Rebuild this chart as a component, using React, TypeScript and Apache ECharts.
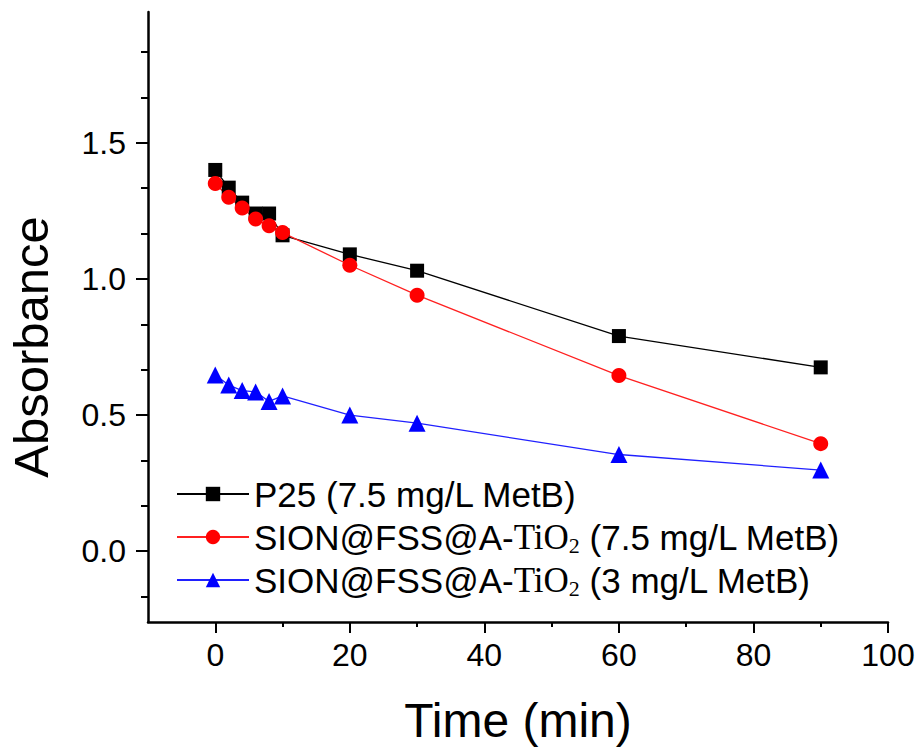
import React, { useEffect, useRef } from "react";
import * as echarts from "echarts";

const times = [0, 2, 4, 6, 8, 10, 20, 30, 60, 90];
const p25 = [1.4, 1.335, 1.28, 1.24, 1.24, 1.16, 1.09, 1.03, 0.79, 0.675];
const sion75 = [1.35, 1.3, 1.26, 1.22, 1.195, 1.17, 1.05, 0.94, 0.645, 0.395];
const sion3 = [0.647, 0.61, 0.59, 0.585, 0.55, 0.57, 0.5, 0.47, 0.355, 0.298];

const seriesNames = [
  "P25 (7.5 mg/L MetB)",
  "SION@FSS@A-TiO₂ (7.5 mg/L MetB)",
  "SION@FSS@A-TiO₂ (3 mg/L MetB)",
];

const xMajor = [0, 20, 40, 60, 80, 100];
const xMinor = [10, 30, 50, 70, 90];
const yMajor = [0, 0.5, 1.0, 1.5];
const yMinor = [-0.1667, 0.1667, 0.3333, 0.6667, 0.8333, 1.1667, 1.3333, 1.6667, 1.8333];

const X_MIN = -10;
const X_MAX = 100;
const Y_MIN = -0.26;
const Y_MAX = 1.98;

const FONT = "'Liberation Sans', Arial, sans-serif";
const SERIF = "'Liberation Serif', 'Times New Roman', serif";

export default function App() {
  const ref = useRef<HTMLDivElement>(null);
  useEffect(() => {
    if (!ref.current) return;
    const chart = echarts.init(ref.current, null, { renderer: "svg" });
    const pair = (ys: number[]) => times.map((t, i) => [t, ys[i]]);
    const option: any = {
      animation: false,
      backgroundColor: "#fff",
      textStyle: { fontFamily: FONT },
      grid: { left: 148, right: 35, top: 12, bottom: 126, containLabel: false, outerBoundsMode: "none" },
      legend: {
        orient: "vertical",
        left: 176,
        top: 475,
        padding: 0,
        itemGap: 5,
        itemWidth: 72,
        itemHeight: 18,
        data: seriesNames,
        formatter: (name: string) => name.replace("TiO₂", "{ti|TiO}{sub|2}"),
        textStyle: {
          fontFamily: FONT,
          fontSize: 35,
          color: "#000",
          lineHeight: 38,
          rich: {
            ti: { fontFamily: SERIF, fontSize: 35, color: "#000", lineHeight: 38 },
            sub: { fontFamily: SERIF, fontSize: 22, color: "#000", lineHeight: 22, verticalAlign: "bottom" },
          },
        },
      },
      xAxis: [
        {
          type: "value",
          min: X_MIN,
          max: X_MAX,
          position: "bottom",
          axisLine: { show: true, onZero: false, lineStyle: { color: "#000", width: 2.5 } },
          axisTick: { show: true, length: 11, lineStyle: { color: "#000", width: 2 }, customValues: xMajor },
          axisLabel: { customValues: xMajor, fontSize: 32, color: "#000", margin: 17, fontFamily: FONT },
          splitLine: { show: false },
          name: "Time (min)",
          nameLocation: "middle",
          nameGap: 74,
          nameTextStyle: { fontSize: 48, color: "#000", fontFamily: FONT },
        },
        {
          type: "value",
          min: X_MIN,
          max: X_MAX,
          position: "bottom",
          axisLine: { show: false, onZero: false },
          axisTick: { show: true, length: 5, lineStyle: { color: "#000", width: 2 }, customValues: xMinor },
          axisLabel: { show: false },
          splitLine: { show: false },
        },
      ],
      yAxis: [
        {
          type: "value",
          min: Y_MIN,
          max: Y_MAX,
          position: "left",
          axisLine: { show: true, onZero: false, lineStyle: { color: "#000", width: 2.5 } },
          axisTick: { show: true, length: 12, lineStyle: { color: "#000", width: 2 }, customValues: yMajor },
          axisLabel: {
            customValues: yMajor,
            fontSize: 32,
            color: "#000",
            margin: 22,
            fontFamily: FONT,
            formatter: (v: number) => v.toFixed(1),
          },
          splitLine: { show: false },
          name: "Absorbance",
          nameLocation: "middle",
          nameGap: 93,
          nameTextStyle: { fontSize: 49, color: "#000", fontFamily: FONT, padding: [0, 60, 0, 0] },
        },
        {
          type: "value",
          min: Y_MIN,
          max: Y_MAX,
          position: "left",
          axisLine: { show: false, onZero: false },
          axisTick: { show: true, length: 7, lineStyle: { color: "#000", width: 2 }, customValues: yMinor },
          axisLabel: { show: false },
          splitLine: { show: false },
        },
      ],
      series: [
        {
          name: seriesNames[0],
          type: "line",
          data: pair(p25),
          symbol: "rect",
          symbolSize: 14,
          itemStyle: { color: "#000" },
          lineStyle: { color: "#000", width: 1.3 },
        },
        {
          name: seriesNames[1],
          type: "line",
          data: pair(sion75),
          symbol: "circle",
          symbolSize: 15,
          itemStyle: { color: "#ff0000" },
          lineStyle: { color: "#ff2020", width: 1.3 },
        },
        {
          name: seriesNames[2],
          type: "line",
          data: pair(sion3),
          symbol: "triangle",
          symbolSize: 17,
          itemStyle: { color: "#0000ff" },
          lineStyle: { color: "#2020ff", width: 1.3 },
        },
      ],
    };
    chart.setOption(option);
    return () => chart.dispose();
  }, []);
  return (
    <div
      ref={ref}
      style={{ position: "fixed", left: 0, top: 0, width: 923, height: 748, background: "#fff" }}
    />
  );
}
